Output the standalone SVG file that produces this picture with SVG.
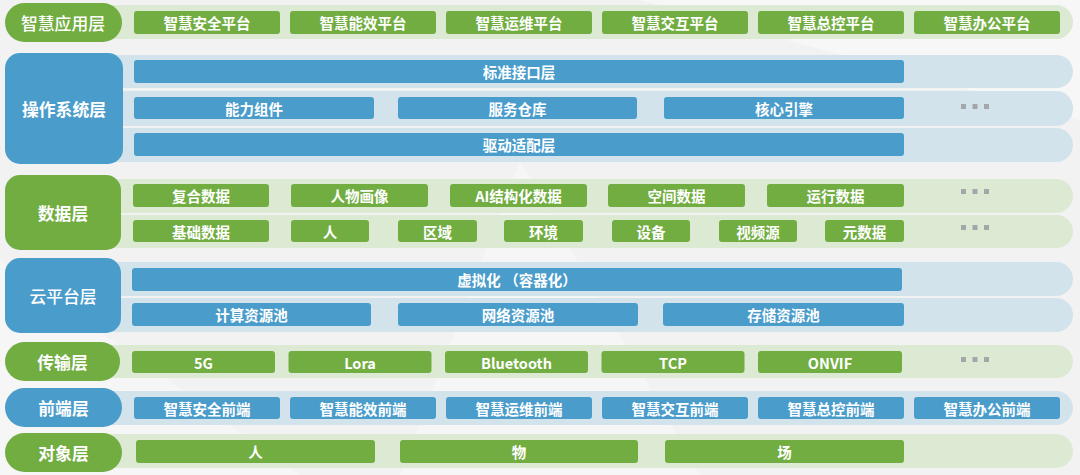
<svg xmlns="http://www.w3.org/2000/svg" width="1080" height="475" viewBox="0 0 1080 475">
<style>
text{font-family:"Noto Sans CJK SC","Noto Sans",sans-serif;fill:#fff;text-anchor:middle;dominant-baseline:central}
.lbl{font-size:16.8px;font-weight:bold}
.lbln{font-size:16.8px;font-weight:500}
.bt{font-size:14.5px;font-weight:bold}
.g{fill:#72ad42}
.b{fill:#4a9ccb}
.gb{fill:#dce9d3}
.bb{fill:#d2e3ec}
.dot{fill:#a3a7aa}
</style>
<rect width="1080" height="475" fill="#f2f2f2"/>
<polygon points="640,0 1080,0 1080,120" fill="#f7f7f7"/>
<polygon points="520,160 700,475 400,475" fill="#f6f6f6"/>
<polygon points="0,260 300,475 0,475" fill="#f6f6f6"/>

<g id="layer-app">
<rect class="gb" x="60" y="5" width="1013" height="34" rx="17"/>
<rect class="g" x="5" y="3" width="117" height="39" rx="19.5"/>
<text class="lbln" x="63" y="22.5">智慧应用层</text>
<rect class="g" x="134" y="11" width="146" height="23" rx="3"/><text class="bt" x="207" y="22.5">智慧安全平台</text>
<rect class="g" x="290" y="11" width="146" height="23" rx="3"/><text class="bt" x="363" y="22.5">智慧能效平台</text>
<rect class="g" x="446" y="11" width="146" height="23" rx="3"/><text class="bt" x="519" y="22.5">智慧运维平台</text>
<rect class="g" x="602" y="11" width="146" height="23" rx="3"/><text class="bt" x="675" y="22.5">智慧交互平台</text>
<rect class="g" x="758" y="11" width="146" height="23" rx="3"/><text class="bt" x="831" y="22.5">智慧总控平台</text>
<rect class="g" x="914" y="11" width="146" height="23" rx="3"/><text class="bt" x="987" y="22.5">智慧办公平台</text>
</g>

<g id="layer-os">
<rect class="bb" x="60" y="55" width="1013" height="33" rx="16.5"/>
<rect class="bb" x="60" y="91" width="1013" height="35" rx="17"/>
<rect class="bb" x="60" y="128" width="1013" height="34" rx="17"/>
<rect class="b" x="5" y="53" width="118" height="111" rx="15"/>
<text class="lbl" x="64" y="108.5">操作系统层</text>
<rect class="b" x="134" y="60" width="770" height="23" rx="3"/><text class="bt" x="519" y="71.5">标准接口层</text>
<rect class="b" x="134" y="97" width="240" height="22" rx="3"/><text class="bt" x="254" y="108">能力组件</text>
<rect class="b" x="398" y="97" width="239" height="22" rx="3"/><text class="bt" x="517.5" y="108">服务仓库</text>
<rect class="b" x="664" y="97" width="240" height="22" rx="3"/><text class="bt" x="784" y="108">核心引擎</text>
<rect class="b" x="134" y="133" width="770" height="23" rx="3"/><text class="bt" x="519" y="144.5">驱动适配层</text>
<rect class="dot" x="961" y="104" width="5" height="5"/><rect class="dot" x="972.5" y="104" width="5" height="5"/><rect class="dot" x="984" y="104" width="5" height="5"/>
</g>

<g id="layer-data">
<rect class="gb" x="60" y="179" width="1013" height="34" rx="17"/>
<rect class="gb" x="60" y="215" width="1013" height="33" rx="16.5"/>
<rect class="g" x="5" y="175" width="116" height="75" rx="15"/>
<text class="lbl" x="63" y="212.5">数据层</text>
<rect class="g" x="133" y="184" width="136" height="23" rx="3"/><text class="bt" x="201" y="195.5">复合数据</text>
<rect class="g" x="291" y="184" width="137" height="23" rx="3"/><text class="bt" x="359.5" y="195.5">人物画像</text>
<rect class="g" x="450" y="184" width="137" height="23" rx="3"/><text class="bt" x="518.5" y="195.5">AI结构化数据</text>
<rect class="g" x="608" y="184" width="137" height="23" rx="3"/><text class="bt" x="676.5" y="195.5">空间数据</text>
<rect class="g" x="767" y="184" width="137" height="23" rx="3"/><text class="bt" x="835.5" y="195.5">运行数据</text>
<rect class="g" x="133" y="220" width="136" height="22" rx="3"/><text class="bt" x="201" y="231">基础数据</text>
<rect class="g" x="291" y="220" width="78" height="22" rx="3"/><text class="bt" x="330" y="231">人</text>
<rect class="g" x="398" y="220" width="79" height="22" rx="3"/><text class="bt" x="437.5" y="231">区域</text>
<rect class="g" x="504" y="220" width="79" height="22" rx="3"/><text class="bt" x="543.5" y="231">环境</text>
<rect class="g" x="612" y="220" width="78" height="22" rx="3"/><text class="bt" x="651" y="231">设备</text>
<rect class="g" x="719" y="220" width="78" height="22" rx="3"/><text class="bt" x="758" y="231">视频源</text>
<rect class="g" x="825" y="220" width="79" height="22" rx="3"/><text class="bt" x="864.5" y="231">元数据</text>
<rect class="dot" x="961" y="189" width="5" height="5"/><rect class="dot" x="972.5" y="189" width="5" height="5"/><rect class="dot" x="984" y="189" width="5" height="5"/>
<rect class="dot" x="961" y="225" width="5" height="5"/><rect class="dot" x="972.5" y="225" width="5" height="5"/><rect class="dot" x="984" y="225" width="5" height="5"/>
</g>

<g id="layer-cloud">
<rect class="bb" x="60" y="262" width="1013" height="34" rx="17"/>
<rect class="bb" x="60" y="298" width="1013" height="34" rx="17"/>
<rect class="b" x="5" y="258" width="116" height="75" rx="15"/>
<text class="lbln" x="63" y="295.5">云平台层</text>
<rect class="b" x="132" y="268" width="770" height="23" rx="3"/><text class="bt" x="517" y="279.5">虚拟化 （容器化）</text>
<rect class="b" x="132" y="303" width="239" height="23" rx="3"/><text class="bt" x="251.5" y="314.5">计算资源池</text>
<rect class="b" x="398" y="303" width="240" height="23" rx="3"/><text class="bt" x="518" y="314.5">网络资源池</text>
<rect class="b" x="663" y="303" width="241" height="23" rx="3"/><text class="bt" x="783.5" y="314.5">存储资源池</text>
</g>

<g id="layer-transport">
<rect class="gb" x="60" y="345" width="1013" height="33" rx="16.5"/>
<rect class="g" x="5" y="342" width="115" height="39" rx="19.5"/>
<text class="lbl" x="62.5" y="361.5">传输层</text>
<rect class="g" x="132" y="351" width="143" height="22" rx="3"/><text class="bt" x="203.5" y="362">5G</text>
<rect class="g" x="288.5" y="351" width="143" height="22" rx="3"/><text class="bt" x="360" y="362">Lora</text>
<rect class="g" x="445" y="351" width="143" height="22" rx="3"/><text class="bt" x="516.5" y="362">Bluetooth</text>
<rect class="g" x="601.5" y="351" width="143" height="22" rx="3"/><text class="bt" x="673" y="362">TCP</text>
<rect class="g" x="758" y="351" width="144" height="22" rx="3"/><text class="bt" x="830" y="362">ONVIF</text>
<rect class="dot" x="961" y="357" width="5" height="5"/><rect class="dot" x="972.5" y="357" width="5" height="5"/><rect class="dot" x="984" y="357" width="5" height="5"/>
</g>

<g id="layer-front">
<rect class="bb" x="60" y="391" width="1013" height="34" rx="17"/>
<rect class="b" x="5" y="388" width="117" height="39" rx="19.5"/>
<text class="lbl" x="63.5" y="407.5">前端层</text>
<rect class="b" x="134" y="397" width="146" height="22" rx="3"/><text class="bt" x="207" y="408">智慧安全前端</text>
<rect class="b" x="290" y="397" width="146" height="22" rx="3"/><text class="bt" x="363" y="408">智慧能效前端</text>
<rect class="b" x="446" y="397" width="146" height="22" rx="3"/><text class="bt" x="519" y="408">智慧运维前端</text>
<rect class="b" x="602" y="397" width="146" height="22" rx="3"/><text class="bt" x="675" y="408">智慧交互前端</text>
<rect class="b" x="758" y="397" width="146" height="22" rx="3"/><text class="bt" x="831" y="408">智慧总控前端</text>
<rect class="b" x="914" y="397" width="146" height="22" rx="3"/><text class="bt" x="987" y="408">智慧办公前端</text>
</g>

<g id="layer-object">
<rect class="gb" x="60" y="434" width="1013" height="34" rx="17"/>
<rect class="g" x="5" y="433" width="117" height="39" rx="19.5"/>
<text class="lbl" x="63.5" y="452.5">对象层</text>
<rect class="g" x="136" y="440" width="239" height="23" rx="3"/><text class="bt" x="255.5" y="451.5">人</text>
<rect class="g" x="400" y="440" width="238" height="23" rx="3"/><text class="bt" x="519" y="451.5">物</text>
<rect class="g" x="665" y="440" width="239" height="23" rx="3"/><text class="bt" x="784.5" y="451.5">场</text>
</g>
</svg>
